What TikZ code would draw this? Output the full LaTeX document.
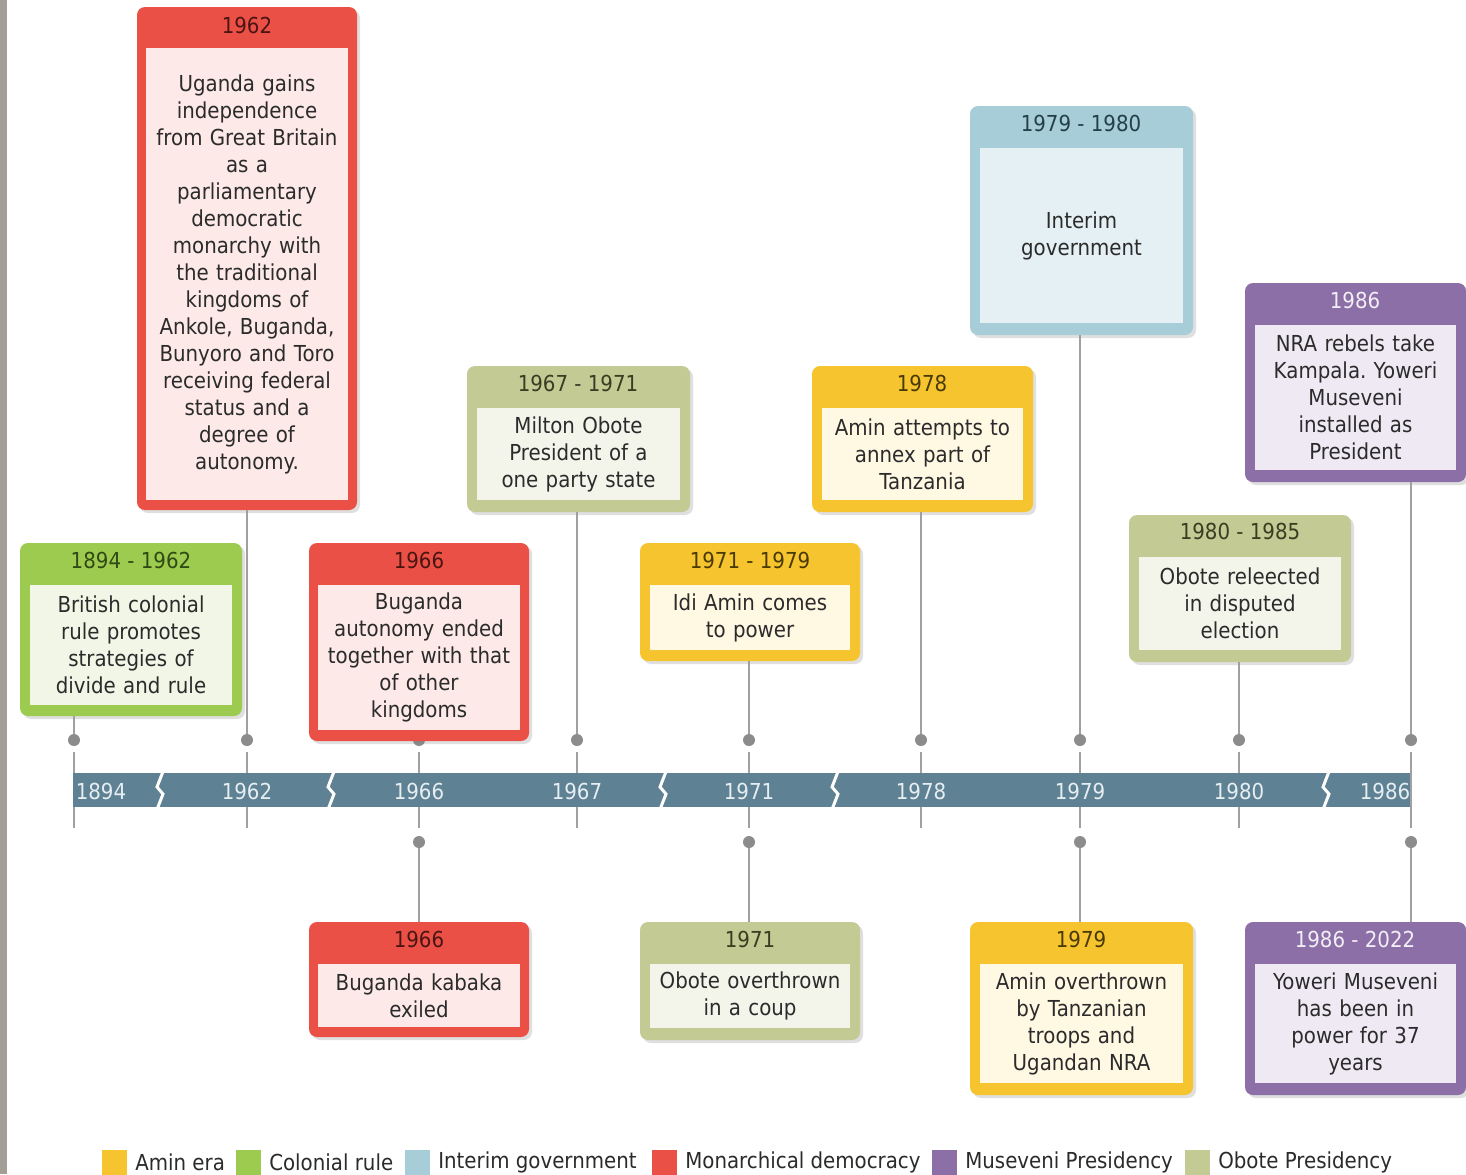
\documentclass[tikz,border=0pt]{standalone}
\usepackage{fontspec}
\setmainfont{DejaVu Sans}[FakeStretch=0.9]
\usetikzlibrary{fit,shadows,positioning}
\frenchspacing

\definecolor{monH}{HTML}{EB5046}
\definecolor{monB}{HTML}{FCE9E8}
\definecolor{monT}{HTML}{4A1512}
\definecolor{colH}{HTML}{9DCB4F}
\definecolor{colB}{HTML}{F1F6E6}
\definecolor{colT}{HTML}{2F4A14}
\definecolor{obH}{HTML}{C3CA93}
\definecolor{obB}{HTML}{F3F4EA}
\definecolor{obT}{HTML}{3A3D22}
\definecolor{aminH}{HTML}{F6C42E}
\definecolor{aminB}{HTML}{FFF8E3}
\definecolor{aminT}{HTML}{4A3A05}
\definecolor{intH}{HTML}{A7CDD8}
\definecolor{intB}{HTML}{E4F0F3}
\definecolor{intT}{HTML}{23404A}
\definecolor{musH}{HTML}{8B6FA6}
\definecolor{musB}{HTML}{EEE9F3}
\definecolor{musT}{HTML}{F2EEF6}
\definecolor{barC}{HTML}{5E8294}
\definecolor{yrT}{HTML}{E6EEF2}
\definecolor{dotC}{HTML}{8C8C8C}
\definecolor{lineC}{HTML}{A0A0A0}
\definecolor{bodyT}{HTML}{2B2B2B}
\definecolor{edgeC}{HTML}{A39F97}

\begin{document}
\begin{tikzpicture}[x=0.5pt, y=-0.5pt,
    frame/.style={rounded corners=4pt, inner sep=0pt,
      drop shadow={shadow xshift=1.5pt, shadow yshift=-1.5pt, opacity=0.25}},
    panel/.style={inner sep=0pt},
    txt/.style={inner sep=0pt, align=center, text width=100pt, text=bodyT,
      font=\fontsize{11}{13.5}\selectfont},
    head/.style={font=\fontsize{11}{13.5}\selectfont},
    dot/.style={circle, fill=dotC, inner sep=0pt, minimum size=6pt},
    stem/.style={draw=lineC, line width=1pt},
    brk/.style={draw=white, line width=1.5pt},
    yr/.style={font=\fontsize{11}{13.5}\selectfont, text=yrT},
    key/.style={minimum size=12.5pt, inner sep=0pt},
    keytxt/.style={inner sep=0pt, text=bodyT, font=\fontsize{11}{13.5}\selectfont}]
    \useasboundingbox (0,0) rectangle (1466,1174);
    \fill[white] (0,0) rectangle (1466,1174);
    \fill[edgeC] (0,0) rectangle (7,1174);

    % ticks and bar
    \draw[stem] (74,752) -- (74,828);
    \draw[stem] (247,752) -- (247,828);
    \draw[stem] (419,752) -- (419,828);
    \draw[stem] (577,752) -- (577,828);
    \draw[stem] (749,752) -- (749,828);
    \draw[stem] (921,752) -- (921,828);
    \draw[stem] (1080,752) -- (1080,828);
    \draw[stem] (1239,752) -- (1239,828);
    \draw[stem] (1411,752) -- (1411,828);
    \fill[barC] (73,773) rectangle (1410,807);
    \foreach \bx in {160,331,663,835,1326}
      \draw[brk] (\bx+4,769) -- (\bx-3,787) -- (\bx+3,794) -- (\bx-4,812);

    \node[yr] at (101,791) {1894};
    \node[yr] at (247,791) {1962};
    \node[yr] at (419,791) {1966};
    \node[yr] at (577,791) {1967};
    \node[yr] at (749,791) {1971};
    \node[yr] at (921,791) {1978};
    \node[yr] at (1080,791) {1979};
    \node[yr] at (1239,791) {1980};
    \node[yr] at (1385,791) {1986};

    % dots
    \node (d1894) [dot] at (74,740) {};
    \node (d1962) [dot] at (247,740) {};
    \node (d1966) [dot] at (419,740) {};
    \node (d1967) [dot] at (577,740) {};
    \node (d1971) [dot] at (749,740) {};
    \node (d1978) [dot] at (921,740) {};
    \node (d1979) [dot] at (1080,740) {};
    \node (d1980) [dot] at (1239,740) {};
    \node (d1986) [dot] at (1411,740) {};
    \node (e1966) [dot] at (419,842) {};
    \node (e1971) [dot] at (749,842) {};
    \node (e1979) [dot] at (1080,842) {};
    \node (e1986) [dot] at (1411,842) {};

    % upper events
    \node (f1894) [frame, fill=colH, fit={(20,543) (242,716)}] {};
    \node (h1894) [head, text=colT] at (131,560) {1894 - 1962};
    \node (b1894) [panel, fill=colB, fit={(30,585) (232,705)}] {};
    \node (t1894) [txt] at (b1894) {British colonial\\rule promotes\\strategies of\\divide and rule};

    \node (f1962) [frame, fill=monH, fit={(137,7) (357,510)}] {};
    \node (h1962) [head, text=monT] at (247,25) {1962};
    \node (b1962) [panel, fill=monB, fit={(146,48) (348,500)}] {};
    \node (t1962) [txt] at (b1962) {Uganda gains\\independence\\from Great Britain\\as a\\parliamentary\\democratic\\monarchy with\\the traditional\\kingdoms of\\Ankole, Buganda,\\Bunyoro and Toro\\receiving federal\\status and a\\degree of\\autonomy.};

    \node (f1966) [frame, fill=monH, fit={(309,543) (529,741)}] {};
    \node (h1966) [head, text=monT] at (419,560) {1966};
    \node (b1966) [panel, fill=monB, fit={(318,585) (520,730)}] {};
    \node (t1966) [txt] at (b1966) {Buganda\\autonomy ended\\together with that\\of other\\kingdoms};

    \node (f1967) [frame, fill=obH, fit={(467,366) (690,512)}] {};
    \node (h1967) [head, text=obT] at (578,383) {1967 - 1971};
    \node (b1967) [panel, fill=obB, fit={(477,408) (680,500)}] {};
    \node (t1967) [txt] at (b1967) {Milton Obote\\President of a\\one party state};

    \node (f1971) [frame, fill=aminH, fit={(640,543) (860,661)}] {};
    \node (h1971) [head, text=aminT] at (750,560) {1971 - 1979};
    \node (b1971) [panel, fill=aminB, fit={(650,585) (850,650)}] {};
    \node (t1971) [txt] at (b1971) {Idi Amin comes\\to power};

    \node (f1978) [frame, fill=aminH, fit={(812,366) (1033,512)}] {};
    \node (h1978) [head, text=aminT] at (922,383) {1978};
    \node (b1978) [panel, fill=aminB, fit={(822,408) (1023,500)}] {};
    \node (t1978) [txt] at (b1978) {Amin attempts to\\annex part of\\Tanzania};

    \node (f1979) [frame, fill=intH, fit={(970,106) (1193,335)}] {};
    \node (h1979) [head, text=intT] at (1081,123) {1979 - 1980};
    \node (b1979) [panel, fill=intB, fit={(980,148) (1183,323)}] {};
    \node (t1979) [txt] at (b1979) {Interim\\government};

    \node (f1980) [frame, fill=obH, fit={(1129,515) (1351,662)}] {};
    \node (h1980) [head, text=obT] at (1240,531) {1980 - 1985};
    \node (b1980) [panel, fill=obB, fit={(1139,557) (1341,650)}] {};
    \node (t1980) [txt] at (b1980) {Obote releected\\in disputed\\election};

    \node (f1986) [frame, fill=musH, fit={(1245,283) (1466,482)}] {};
    \node (h1986) [head, text=musT] at (1355,300) {1986};
    \node (b1986) [panel, fill=musB, fit={(1255,325) (1456,470)}] {};
    \node (t1986) [txt] at (b1986) {NRA rebels take\\Kampala. Yoweri\\Museveni\\installed as\\President};

    % lower events
    \node (g1966) [frame, fill=monH, fit={(309,922) (529,1037)}] {};
    \node (k1966) [head, text=monT] at (419,939) {1966};
    \node (c1966) [panel, fill=monB, fit={(318,964) (520,1027)}] {};
    \node (s1966) [txt] at (c1966) {Buganda kabaka\\exiled};

    \node (g1971) [frame, fill=obH, fit={(640,922) (860,1040)}] {};
    \node (k1971) [head, text=obT] at (750,939) {1971};
    \node (c1971) [panel, fill=obB, fit={(650,964) (850,1028)}] {};
    \node (s1971) [txt] at (c1971) {Obote overthrown\\in a coup};

    \node (g1979) [frame, fill=aminH, fit={(970,922) (1193,1095)}] {};
    \node (k1979) [head, text=aminT] at (1081,939) {1979};
    \node (c1979) [panel, fill=aminB, fit={(980,964) (1183,1083)}] {};
    \node (s1979) [txt] at (c1979) {Amin overthrown\\by Tanzanian\\troops and\\Ugandan NRA};

    \node (g1986) [frame, fill=musH, fit={(1245,922) (1466,1095)}] {};
    \node (k1986) [head, text=musT] at (1355,939) {1986 - 2022};
    \node (c1986) [panel, fill=musB, fit={(1255,964) (1456,1083)}] {};
    \node (s1986) [txt] at (c1986) {Yoweri Museveni\\has been in\\power for 37\\years};

    % connectors
    \draw[stem] (d1894) -- (d1894 |- f1894.south);
    \draw[stem] (d1962) -- (d1962 |- f1962.south);
    \draw[stem] (d1967) -- (d1967 |- f1967.south);
    \draw[stem] (d1971) -- (d1971 |- f1971.south);
    \draw[stem] (d1978) -- (d1978 |- f1978.south);
    \draw[stem] (d1979) -- (d1979 |- f1979.south);
    \draw[stem] (d1980) -- (d1980 |- f1980.south);
    \draw[stem] (d1986) -- (d1986 |- f1986.south);
    \draw[stem] (e1966) -- (e1966 |- g1966.north);
    \draw[stem] (e1971) -- (e1971 |- g1971.north);
    \draw[stem] (e1979) -- (e1979 |- g1979.north);
    \draw[stem] (e1986) -- (e1986 |- g1986.north);

    % legend
    \node (q1) [key, fill=aminH] at (114,1162) {};
    \node (l1) [keytxt, right=4pt of q1] {Amin era};
    \node (q2) [key, fill=colH] at (248,1162) {};
    \node (l2) [keytxt, right=4pt of q2] {Colonial rule};
    \node (q3) [key, fill=intH] at (417,1162) {};
    \node (l3) [keytxt, right=4pt of q3] {Interim government};
    \node (q4) [key, fill=monH] at (664,1162) {};
    \node (l4) [keytxt, right=4pt of q4] {Monarchical democracy};
    \node (q5) [key, fill=musH] at (944,1162) {};
    \node (l5) [keytxt, right=4pt of q5] {Museveni Presidency};
    \node (q6) [key, fill=obH] at (1197,1162) {};
    \node (l6) [keytxt, right=4pt of q6] {Obote Presidency};
\end{tikzpicture}
\end{document}
